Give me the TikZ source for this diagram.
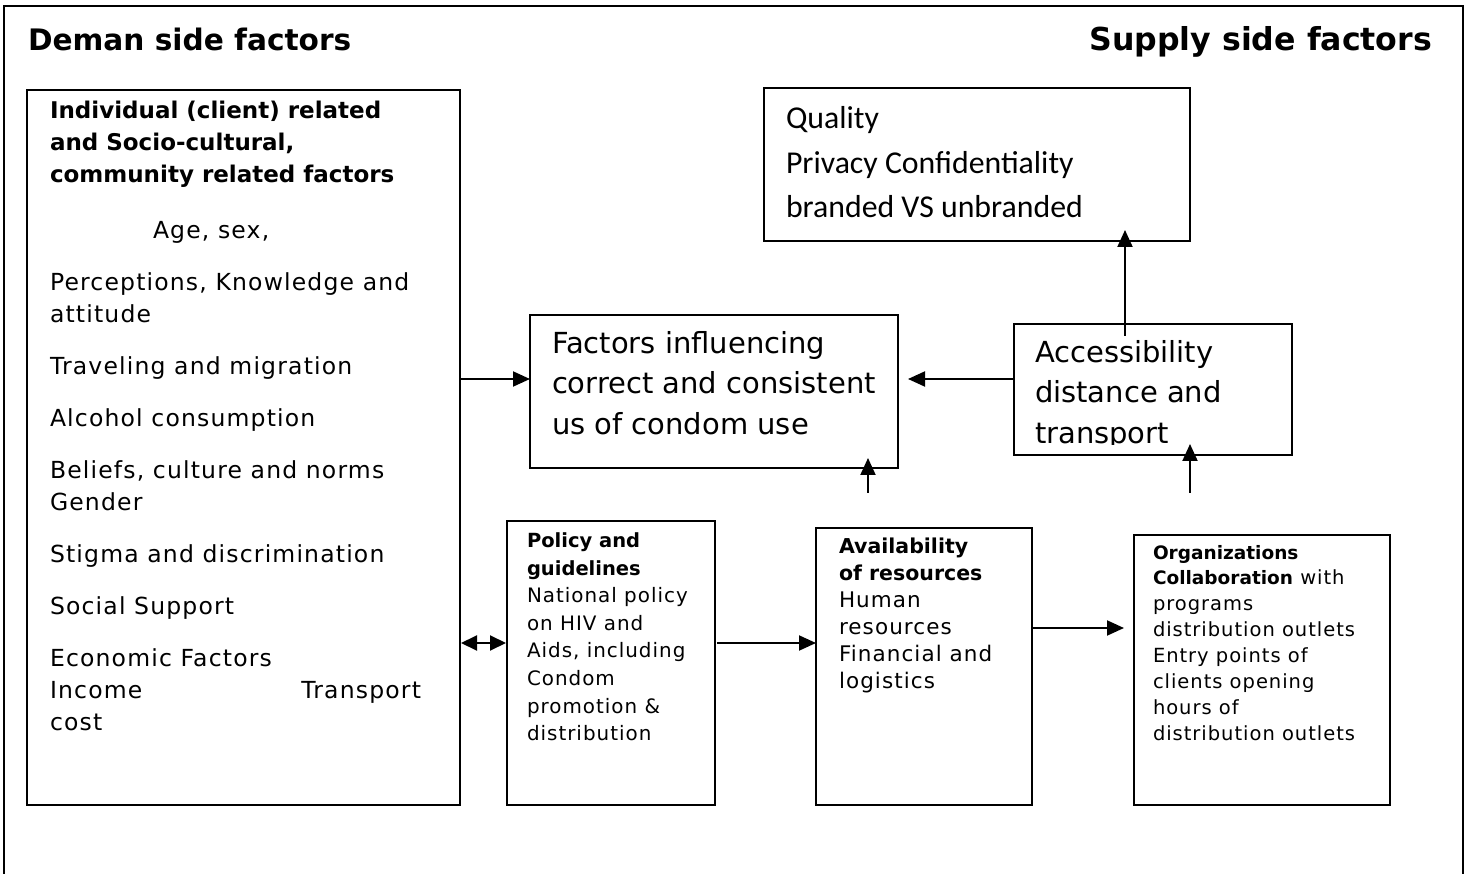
\documentclass[tikz,border=0pt]{standalone}
\usepackage{fontspec}
\setmainfont{DejaVu Sans}
\newfontfamily\spaced[LetterSpace=5]{DejaVu Sans}
\newfontfamily\carl{Carlito}
\usetikzlibrary{arrows.meta,calc}

% bold heading lines inside the text blocks
\newcommand\bsz[2]{\rmfamily\bfseries\fontsize{#1}{#2}\selectfont}
% fixes the height of the first line of every text block
\newcommand\firstline{\rule{0pt}{30pt}}

\tikzset{
  box/.style={draw, line width=1.5pt, inner sep=0pt, outer sep=0pt, anchor=north west},
  txt/.style={anchor=north west, inner sep=0pt, outer sep=0pt, align=left},
  arr/.style={line width=2pt, -{Triangle[length=17pt,width=15pt]}},
  darr/.style={line width=2pt, {Triangle[length=16pt,width=15pt]}-{Triangle[length=16pt,width=15pt]}},
  heading/.style={inner sep=0pt, outer sep=0pt}
}

\begin{document}
\begin{tikzpicture}[x=1pt, y=-1pt]
\useasboundingbox (0,0) rectangle (1468,874);

% outer frame, open at the bottom
\draw[line width=2pt] (4,874) -- (4,6) -- (1463,6) -- (1463,874);

% headings
\node[heading, font=\bfseries\fontsize{29.6}{34}\selectfont, anchor=base west] (demand) at (28,51) {Deman side factors};
\node[heading, font=\bfseries\fontsize{31.6}{36}\selectfont, anchor=base east] (supply) at (1432,51) {Supply side factors};

% boxes
\node[box, minimum width=433pt, minimum height=715pt] (left)  at (27,90) {};
\node[box, minimum width=426pt, minimum height=153pt] (qual)  at (764,88) {};
\node[box, minimum width=368pt, minimum height=153pt] (fac)   at (530,315) {};
\node[box, minimum width=278pt, minimum height=131pt] (acc)   at (1014,324) {};
\node[box, minimum width=208pt, minimum height=284pt] (pol)   at (507,521) {};
\node[box, minimum width=216pt, minimum height=277pt] (avail) at (816,528) {};
\node[box, minimum width=256pt, minimum height=270pt] (org)   at (1134,535) {};

% demand side text
\node[txt, font=\spaced\fontsize{23.5}{32}\selectfont] (lefttext) at (50,88.6) {%
\firstline{\bsz{23}{32}Individual (client) related}\\
{\bsz{23}{32}and Socio-cultural,}\\
{\bsz{23}{32}community related factors}\\[24pt]
\hspace*{103pt}Age, sex,\\[20pt]
Perceptions, Knowledge and\\
attitude\\[20pt]
Traveling and migration\\[20pt]
Alcohol consumption\\[20pt]
Beliefs, culture and norms\\
Gender\\[20pt]
Stigma and discrimination\\[20pt]
Social Support\\[20pt]
Economic Factors\\
\makebox[371pt][l]{Income\hfill Transport}\\
cost};

% supply side text
\node[txt, font=\carl\fontsize{31.8}{44.5}\selectfont] (qualtext) at (786,99) {%
\firstline Quality\\
Privacy Confidentiality\\
branded VS unbranded};

\node[txt, font=\rmfamily\fontsize{29}{40.5}\selectfont] (factext) at (552,323.5) {%
\firstline Factors influencing\\
correct and consistent\\
us of condom use};

\begin{scope}
  \clip (acc.north west) rectangle ($(acc.south east)+(0,-10)$);
  \node[txt, font=\rmfamily\fontsize{29}{40.5}\selectfont] (acctext) at (1035,332.5) {%
  \firstline Accessibility\\
  distance and\\
  transport};
\end{scope}

\node[txt, font=\spaced\fontsize{19.9}{27.6}\selectfont] (poltext) at (527,517.4) {%
\firstline{\bsz{19.5}{27.6}Policy and}\\
{\bsz{19.5}{27.6}guidelines}\\
National policy\\
on HIV and\\
Aids, including\\
Condom\\
promotion \&\\
distribution};

\node[txt, font=\spaced\fontsize{21.5}{27}\selectfont] (availtext) at (839,523.5) {%
\firstline{\bsz{20.5}{27}Availability}\\
{\bsz{20.5}{27}of resources}\\
Human\\
resources\\
Financial and\\
logistics};

\node[txt, font=\spaced\fontsize{19.5}{25.9}\selectfont] (orgtext) at (1153,529) {%
\firstline{\bsz{18.5}{25.9}Organizations}\\
{\bsz{18.5}{25.9}Collaboration} with\\
programs\\
distribution outlets\\
Entry points of\\
clients opening\\
hours of\\
distribution outlets};

% connectors
\coordinate (rowA) at (0,379);
\coordinate (rowB) at (0,643);
\coordinate (rowC) at (0,628);

\draw[arr] (left.east |- rowA) -- (fac.west |- rowA);
\draw[arr] (acc.west |- rowA) -- ([xshift=10pt]fac.east |- rowA);
\draw[arr] ($(acc.north west)+(111,12)$) -- ($(qual.south west)+(361,-11)$);
\draw[arr] ($(avail.north west)+(52,-35)$) -- ($(fac.south west)+(338,-10)$);
\draw[arr] ($(org.north west)+(56,-42)$) -- ($(acc.south west)+(176,-11)$);
\draw[darr] ([xshift=1pt]left.east |- rowB) -- ([xshift=-1pt]pol.west |- rowB);
\draw[arr] ([xshift=2pt]pol.east |- rowB) -- (avail.west |- rowB);
\draw[arr] (avail.east |- rowC) -- ([xshift=-10pt]org.west |- rowC);

\end{tikzpicture}
\end{document}
